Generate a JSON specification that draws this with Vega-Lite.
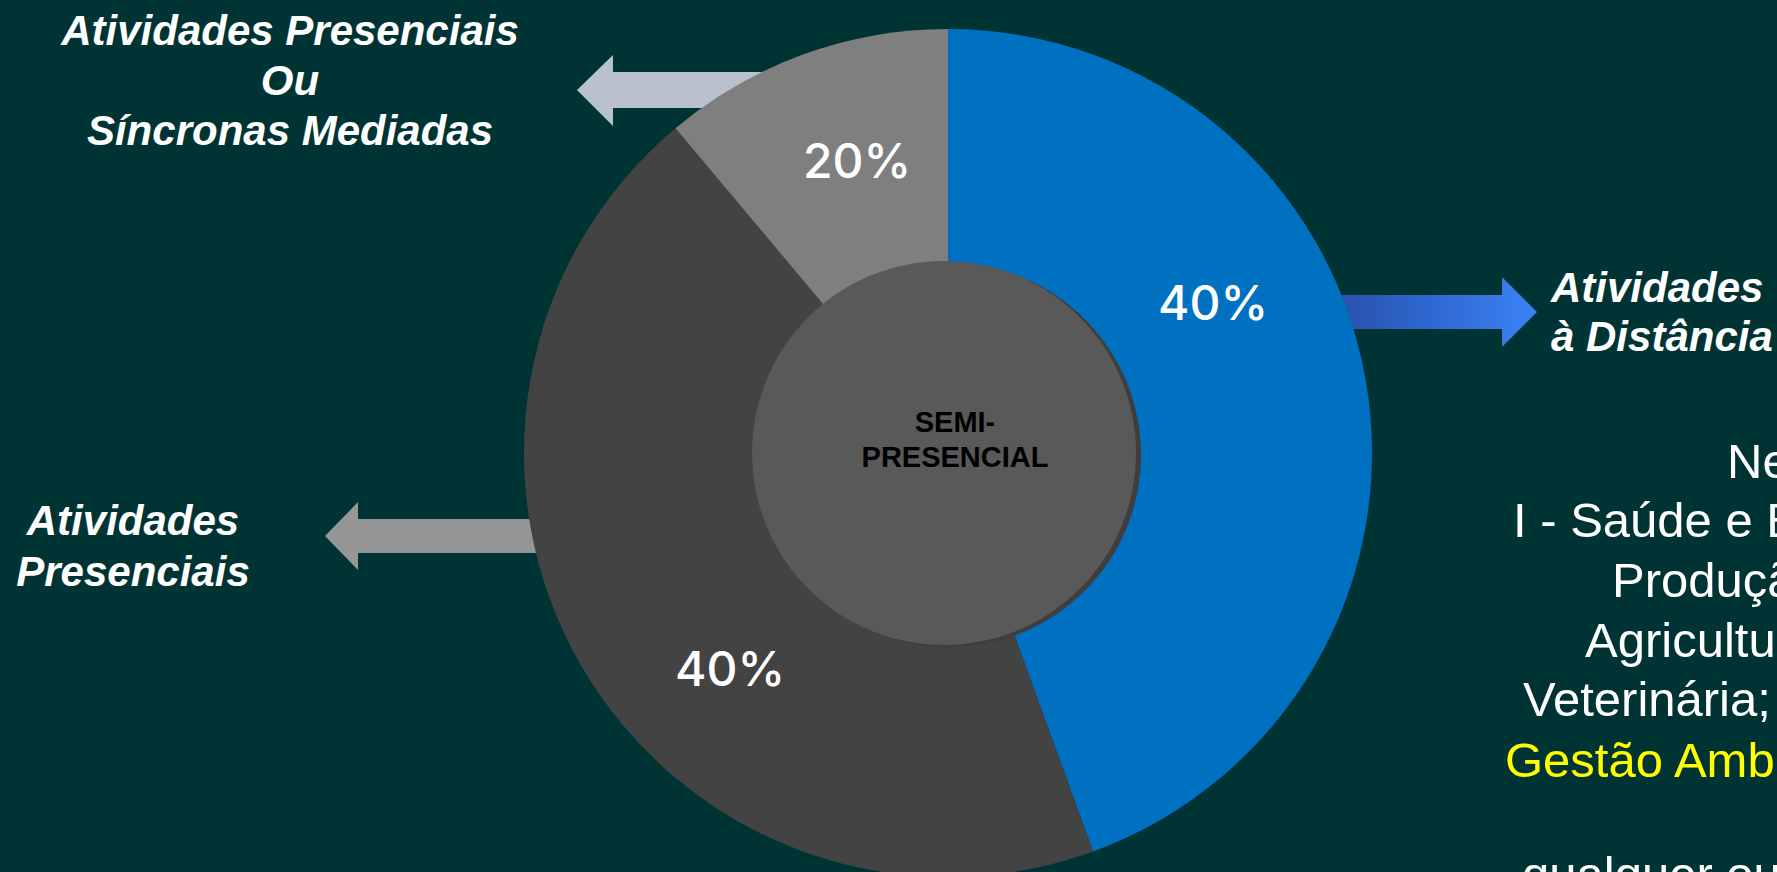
{
  "$schema": "https://vega.github.io/schema/vega-lite/v6.json",
  "width": 1777,
  "height": 872,
  "autosize": {"type": "none"},
  "padding": 0,
  "background": "#003434",
  "config": {"view": {"stroke": null}, "axis": {"disable": true}, "legend": {"disable": true}},
  "datasets": {
    "fatias": [
      {"idx": 1, "categoria": "Atividades à Distância", "legenda": "Atividades\nà Distância", "valor": 40, "rotulo": "40%"},
      {"idx": 2, "categoria": "Atividades Presenciais", "legenda": "Atividades\nPresenciais", "valor": 40, "rotulo": "40%"},
      {"idx": 3, "categoria": "Atividades Presenciais Ou Síncronas Mediadas", "legenda": "Atividades Presenciais\nOu\nSíncronas Mediadas", "valor": 10, "rotulo": "20%"}
    ],
    "centro": [{"nome": "SEMI-\nPRESENCIAL"}]
  },
  "layer": [
    {
      "data": {"name": "fatias"},
      "transform": [{"filter": "datum.idx == 3"}],
      "mark": {"type": "point", "shape": "M-1.03,0 L-0.67,-0.35 L-0.67,-0.18 L1,-0.18 L1,0.18 L-0.67,0.18 L-0.67,0.36 Z", "filled": true, "fill": "#B9C1CC", "opacity": 1, "strokeWidth": 0, "size": 40000},
      "encoding": {
        "x": {"datum": -0.6321, "type": "quantitative", "scale": {"domain": [-2.235849, 1.955189], "nice": false, "zero": false}, "axis": null},
        "y": {"datum": 0.8561, "type": "quantitative", "scale": {"domain": [-0.988208, 1.068396], "nice": false, "zero": false}, "axis": null}
      }
    },
    {
      "data": {"name": "fatias"},
      "transform": [{"filter": "datum.idx == 2"}],
      "mark": {"type": "point", "shape": "M-1.15,0 L-0.82,-0.34 L-0.82,-0.17 L1.2,-0.17 L1.2,0.17 L-0.82,0.17 L-0.82,0.34 Z", "filled": true, "fill": "#969696", "opacity": 1, "strokeWidth": 0, "size": 40000},
      "encoding": {
        "x": {"datum": -1.1981, "type": "quantitative"},
        "y": {"datum": -0.1958, "type": "quantitative"}
      }
    },
    {
      "data": {"name": "fatias"},
      "transform": [{"filter": "datum.idx == 1"}],
      "mark": {"type": "point", "shape": "M-1,-0.17 L0.72,-0.17 L0.72,-0.35 L1.07,0 L0.72,0.35 L0.72,0.17 L-1,0.17 Z", "filled": true, "opacity": 1, "strokeWidth": 0, "size": 40000,
        "fill": {"gradient": "linear", "x1": 0, "y1": 0, "x2": 1, "y2": 0, "stops": [{"offset": 0, "color": "#2A4FA8"}, {"offset": 0.45, "color": "#2E66CE"}, {"offset": 1, "color": "#3B82F6"}]}},
      "encoding": {
        "x": {"datum": 1.1368, "type": "quantitative"},
        "y": {"datum": 0.3325, "type": "quantitative"}
      }
    },
    {
      "data": {"name": "fatias"},
      "mark": {"type": "arc", "outerRadius": 424, "innerRadius": 0, "strokeWidth": 0},
      "encoding": {
        "theta": {"field": "valor", "type": "quantitative", "stack": true},
        "order": {"field": "idx", "type": "quantitative"},
        "color": {"field": "categoria", "type": "nominal", "legend": null,
          "scale": {"domain": ["Atividades à Distância", "Atividades Presenciais", "Atividades Presenciais Ou Síncronas Mediadas"], "range": ["#0070C0", "#434343", "#7F7F7F"]}},
        "x": {"datum": 0, "type": "quantitative"},
        "y": {"datum": 0, "type": "quantitative"}
      }
    },
    {
      "data": {"name": "centro"},
      "mark": {"type": "arc", "theta": 0, "theta2": 6.2832, "outerRadius": 192, "innerRadius": 0, "fill": "#3E3E3E", "strokeWidth": 0},
      "encoding": {
        "x": {"datum": 0.0024, "type": "quantitative"},
        "y": {"datum": -0.0047, "type": "quantitative"}
      }
    },
    {
      "data": {"name": "centro"},
      "mark": {"type": "arc", "theta": 0, "theta2": 6.2832, "outerRadius": 192, "innerRadius": 0, "fill": "#595959", "strokeWidth": 0},
      "encoding": {
        "x": {"datum": -0.0094, "type": "quantitative"},
        "y": {"datum": 0, "type": "quantitative"}
      }
    },
    {
      "data": {"name": "centro"},
      "mark": {"type": "text", "font": "Liberation Sans", "fontWeight": "bold", "fontSize": 29, "color": "#000000", "align": "center", "baseline": "alphabetic", "lineBreak": "\n", "lineHeight": 35},
      "encoding": {
        "text": {"field": "nome"},
        "x": {"datum": 0.0165, "type": "quantitative"},
        "y": {"datum": 0.0495, "type": "quantitative"}
      }
    },
    {
      "data": {"name": "fatias"},
      "transform": [{"filter": "datum.idx == 1"}],
      "mark": {"type": "text", "font": "Inter", "fontWeight": 500, "fontSize": 48, "color": "#FFFFFF", "align": "center", "baseline": "alphabetic"},
      "encoding": {
        "text": {"field": "rotulo"},
        "x": {"datum": 0.625, "type": "quantitative"},
        "y": {"datum": 0.3137, "type": "quantitative"}
      }
    },
    {
      "data": {"name": "fatias"},
      "transform": [{"filter": "datum.idx == 2"}],
      "mark": {"type": "text", "font": "Inter", "fontWeight": 500, "fontSize": 48, "color": "#FFFFFF", "align": "center", "baseline": "alphabetic"},
      "encoding": {
        "text": {"field": "rotulo"},
        "x": {"datum": -0.5142, "type": "quantitative"},
        "y": {"datum": -0.5495, "type": "quantitative"}
      }
    },
    {
      "data": {"name": "fatias"},
      "transform": [{"filter": "datum.idx == 3"}],
      "mark": {"type": "text", "font": "Inter", "fontWeight": 500, "fontSize": 48, "color": "#FFFFFF", "align": "center", "baseline": "alphabetic"},
      "encoding": {
        "text": {"field": "rotulo"},
        "x": {"datum": -0.2146, "type": "quantitative"},
        "y": {"datum": 0.6486, "type": "quantitative"}
      }
    },
    {
      "data": {"name": "fatias"},
      "transform": [{"filter": "datum.idx == 3"}],
      "mark": {"type": "text", "font": "Liberation Sans", "fontWeight": "bold", "fontStyle": "italic", "fontSize": 42, "color": "#FFFFFF", "align": "center", "baseline": "alphabetic", "lineBreak": "\n", "lineHeight": 50},
      "encoding": {
        "text": {"field": "legenda"},
        "x": {"datum": -1.5519, "type": "quantitative"},
        "y": {"datum": 0.9623, "type": "quantitative"}
      }
    },
    {
      "data": {"name": "fatias"},
      "transform": [{"filter": "datum.idx == 2"}],
      "mark": {"type": "text", "font": "Liberation Sans", "fontWeight": "bold", "fontStyle": "italic", "fontSize": 42, "color": "#FFFFFF", "align": "center", "baseline": "alphabetic", "lineBreak": "\n", "lineHeight": 51},
      "encoding": {
        "text": {"field": "legenda"},
        "x": {"datum": -1.9222, "type": "quantitative"},
        "y": {"datum": -0.1934, "type": "quantitative"}
      }
    },
    {
      "data": {"name": "fatias"},
      "transform": [{"filter": "datum.idx == 1"}],
      "mark": {"type": "text", "font": "Liberation Sans", "fontWeight": "bold", "fontStyle": "italic", "fontSize": 42, "color": "#FFFFFF", "align": "left", "baseline": "alphabetic", "lineBreak": "\n", "lineHeight": 49},
      "encoding": {
        "text": {"field": "legenda"},
        "x": {"datum": 1.4222, "type": "quantitative"},
        "y": {"datum": 0.3561, "type": "quantitative"}
      }
    },
    {
      "data": {"values": [{"linha": "Nesses cursos:"}]},
      "mark": {"type": "text", "font": "Liberation Sans", "fontSize": 49, "color": "#FFFFFF", "align": "left", "baseline": "alphabetic"},
      "encoding": {"text": {"field": "linha"}, "x": {"datum": 1.8373, "type": "quantitative"}, "y": {"datum": -0.059, "type": "quantitative"}}
    },
    {
      "data": {"values": [{"linha": "I - Saúde e Bem-estar;"}]},
      "mark": {"type": "text", "font": "Liberation Sans", "fontSize": 49, "color": "#FFFFFF", "align": "left", "baseline": "alphabetic"},
      "encoding": {"text": {"field": "linha"}, "x": {"datum": 1.3325, "type": "quantitative"}, "y": {"datum": -0.1981, "type": "quantitative"}}
    },
    {
      "data": {"values": [{"linha": "Produção e Construção;"}]},
      "mark": {"type": "text", "font": "Liberation Sans", "fontSize": 49, "color": "#FFFFFF", "align": "left", "baseline": "alphabetic"},
      "encoding": {"text": {"field": "linha"}, "x": {"datum": 1.566, "type": "quantitative"}, "y": {"datum": -0.3396, "type": "quantitative"}}
    },
    {
      "data": {"values": [{"linha": "Agricultura, Pesca e"}]},
      "mark": {"type": "text", "font": "Liberation Sans", "fontSize": 49, "color": "#FFFFFF", "align": "left", "baseline": "alphabetic"},
      "encoding": {"text": {"field": "linha"}, "x": {"datum": 1.5024, "type": "quantitative"}, "y": {"datum": -0.4811, "type": "quantitative"}}
    },
    {
      "data": {"values": [{"linha": "Veterinária; e"}]},
      "mark": {"type": "text", "font": "Liberation Sans", "fontSize": 49, "color": "#FFFFFF", "align": "left", "baseline": "alphabetic"},
      "encoding": {"text": {"field": "linha"}, "x": {"datum": 1.3561, "type": "quantitative"}, "y": {"datum": -0.6203, "type": "quantitative"}}
    },
    {
      "data": {"values": [{"linha": "Gestão Ambiental"}]},
      "mark": {"type": "text", "font": "Liberation Sans", "fontSize": 49, "color": "#FFFF00", "align": "left", "baseline": "alphabetic"},
      "encoding": {"text": {"field": "linha"}, "x": {"datum": 1.3137, "type": "quantitative"}, "y": {"datum": -0.7642, "type": "quantitative"}}
    },
    {
      "data": {"values": [{"linha": "qualquer outro"}]},
      "mark": {"type": "text", "font": "Liberation Sans", "fontSize": 49, "color": "#FFFFFF", "align": "left", "baseline": "alphabetic"},
      "encoding": {"text": {"field": "linha"}, "x": {"datum": 1.3538, "type": "quantitative"}, "y": {"datum": -1.033, "type": "quantitative"}}
    }
  ]
}
